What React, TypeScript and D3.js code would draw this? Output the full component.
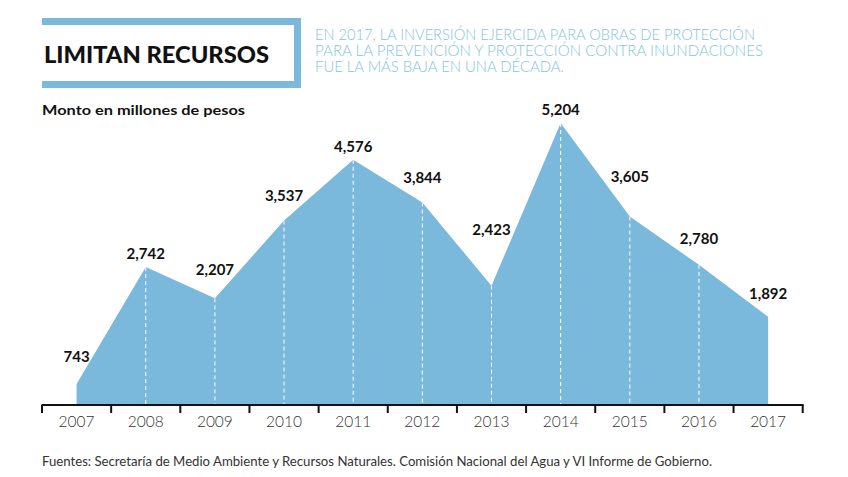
import React from "react";
import * as d3 from "d3";

const years = ["2007","2008","2009","2010","2011","2012","2013","2014","2015","2016","2017"];
const values = [743, 2742, 2207, 3537, 4576, 3844, 2423, 5204, 3605, 2780, 1892];
const labelDy = [-22, -8, -23, -20, -8, -20, -51, -8, -35, -21, -18];

const title = "LIMITAN RECURSOS";
const subtitleLines = [
  "EN 2017, LA INVERSIÓN EJERCIDA PARA OBRAS DE PROTECCIÓN",
  "PARA LA PREVENCIÓN Y PROTECCIÓN CONTRA INUNDACIONES",
  "FUE LA MÁS BAJA EN UNA DÉCADA.",
];
const subtitleWidths = [440, 448, 249];
const unitLabel = "Monto en millones de pesos";
const footer = "Fuentes: Secretaría de Medio Ambiente y Recursos Naturales. Comisión Nacional del Agua y VI Informe de Gobierno.";

const BLUE = "#7ab8dc";
const LIGHT_BLUE = "#86c3e3";
const W = 848, H = 477;
const axisY = 405;
const baseY = 404;

export default function App() {
  const x = d3.scaleBand<string>().domain(years).range([42, 802.7]);
  const cx = (y: string) => (x(y) as number) + x.bandwidth() / 2;
  const y = d3.scaleLinear().domain([0, 5204]).range([427.5, 123]);
  const data = years.map((yr, i) => ({ yr, v: values[i], dy: labelDy[i] }));
  const area = d3.area<{ yr: string; v: number }>()
    .x(d => cx(d.yr))
    .y0(baseY)
    .y1(d => y(d.v));
  const fmt = d3.format(",");
  const ticks = [...years.map(yr => x(yr) as number), 802.7];

  return (
    <svg width={W} height={H} style={{ position: "absolute", left: 0, top: 0, background: "#fff" }}
      fontFamily="Lato, 'Open Sans', sans-serif">
      {/* title box */}
      <rect x={42} y={18} width={259} height={7} fill={BLUE} />
      <rect x={42} y={81} width={259} height={7} fill={BLUE} />
      <rect x={294} y={18} width={7} height={70} fill={BLUE} />
      <text x={44} y={63} fontSize={22.5} fontWeight={900} fill="#111" textLength={225} lengthAdjust="spacingAndGlyphs">{title}</text>
      {subtitleLines.map((l, i) => (
        <text key={i} x={315} y={40 + i * 16} fontSize={15.5} fontWeight={300} fill={LIGHT_BLUE}
          textLength={subtitleWidths[i]} lengthAdjust="spacingAndGlyphs">{l}</text>
      ))}
      <text x={42} y={115} fontSize={13.5} fontWeight={700} fill="#111" textLength={203} lengthAdjust="spacingAndGlyphs">{unitLabel}</text>

      {/* area */}
      <path d={area(data) as string} fill={BLUE} />
      {data.slice(1, -1).map(d => (
        <line key={d.yr} x1={cx(d.yr)} x2={cx(d.yr)} y1={y(d.v)} y2={baseY}
          stroke="#fff" strokeWidth={1} strokeDasharray="4,3" />
      ))}
      {data.map(d => (
        <text key={"l" + d.yr} x={cx(d.yr)} y={y(d.v) + d.dy} textAnchor="middle"
          fontSize={15} fontWeight={700} fill="#111">{fmt(d.v)}</text>
      ))}

      {/* axis */}
      <line x1={41.5} x2={803.7} y1={axisY} y2={axisY} stroke="#111" strokeWidth={2.2} />
      {ticks.map((t, i) => (
        <line key={"t" + i} x1={t} x2={t} y1={axisY} y2={413} stroke="#111" strokeWidth={2} />
      ))}
      {years.map(yr => (
        <text key={"y" + yr} x={cx(yr)} y={426.5} textAnchor="middle" fontSize={15.5} fontWeight={300} fill="#333">{yr}</text>
      ))}

      <text x={42} y={466} fontSize={12.5} fill="#333" textLength={670} lengthAdjust="spacingAndGlyphs">{footer}</text>
    </svg>
  );
}
